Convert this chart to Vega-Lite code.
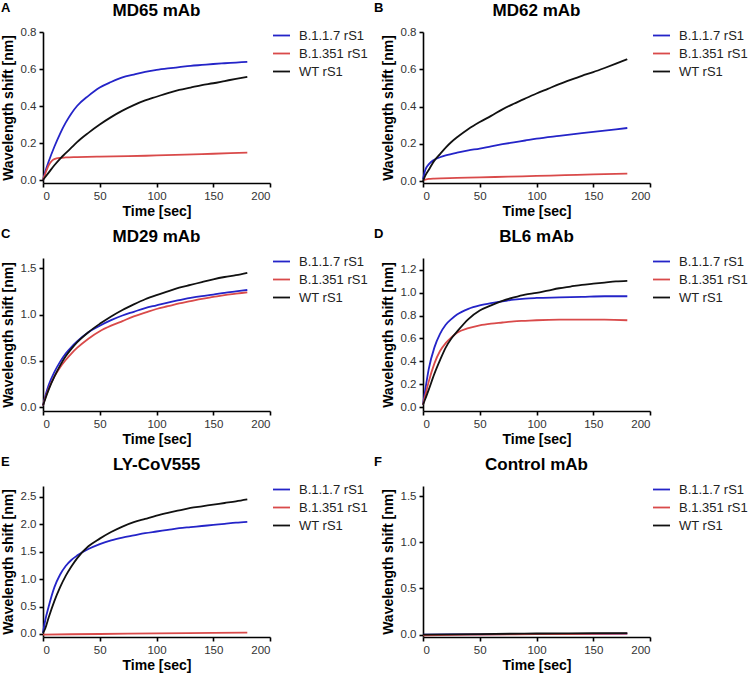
{
  "$schema": "https://vega.github.io/schema/vega-lite/v6.json",
  "background": "white",
  "padding": {"left": 1, "top": 2, "right": 0, "bottom": 0},
  "config": {
    "font": "Liberation Sans",
    "view": {"stroke": null},
    "axis": {"grid": false, "domainColor": "#000", "domainWidth": 1.6, "tickColor": "#000", "tickWidth": 1.6, "tickSize": 4, "labelColor": "#333", "labelFontSize": 11.5, "titleFontSize": 14, "titleFontWeight": "bold", "titleColor": "#000", "labelPadding": 3},
    "axisX": {"titlePadding": 3},
    "axisY": {"titlePadding": 5},
    "legend": {"symbolType": "stroke", "symbolSize": 289, "symbolStrokeWidth": 2, "labelFontSize": 13, "labelColor": "#222", "rowPadding": 1, "labelOffset": 8, "padding": 0},
    "title": {"fontSize": 17, "fontWeight": "bold", "color": "#000"},
    "line": {"strokeWidth": 1.8, "interpolate": "monotone"}
  },
  "datasets": {
    "A": [
      {"t":0,"v":0,"s":"B.1.1.7 rS1"},{"t":2,"v":0.045,"s":"B.1.1.7 rS1"},{"t":5,"v":0.1,"s":"B.1.1.7 rS1"},{"t":10,"v":0.18,"s":"B.1.1.7 rS1"},{"t":15,"v":0.25,"s":"B.1.1.7 rS1"},{"t":20,"v":0.31,"s":"B.1.1.7 rS1"},{"t":25,"v":0.36,"s":"B.1.1.7 rS1"},{"t":30,"v":0.4,"s":"B.1.1.7 rS1"},{"t":40,"v":0.455,"s":"B.1.1.7 rS1"},{"t":50,"v":0.5,"s":"B.1.1.7 rS1"},{"t":60,"v":0.53,"s":"B.1.1.7 rS1"},{"t":70,"v":0.555,"s":"B.1.1.7 rS1"},{"t":80,"v":0.57,"s":"B.1.1.7 rS1"},{"t":90,"v":0.585,"s":"B.1.1.7 rS1"},{"t":100,"v":0.595,"s":"B.1.1.7 rS1"},{"t":110,"v":0.603,"s":"B.1.1.7 rS1"},{"t":120,"v":0.61,"s":"B.1.1.7 rS1"},{"t":130,"v":0.617,"s":"B.1.1.7 rS1"},{"t":140,"v":0.622,"s":"B.1.1.7 rS1"},{"t":150,"v":0.627,"s":"B.1.1.7 rS1"},{"t":160,"v":0.631,"s":"B.1.1.7 rS1"},{"t":170,"v":0.635,"s":"B.1.1.7 rS1"},{"t":180,"v":0.639,"s":"B.1.1.7 rS1"},
      {"t":0,"v":0,"s":"B.1.351 rS1"},{"t":2,"v":0.035,"s":"B.1.351 rS1"},{"t":5,"v":0.08,"s":"B.1.351 rS1"},{"t":8,"v":0.105,"s":"B.1.351 rS1"},{"t":10,"v":0.113,"s":"B.1.351 rS1"},{"t":15,"v":0.12,"s":"B.1.351 rS1"},{"t":20,"v":0.122,"s":"B.1.351 rS1"},{"t":30,"v":0.124,"s":"B.1.351 rS1"},{"t":50,"v":0.127,"s":"B.1.351 rS1"},{"t":75,"v":0.129,"s":"B.1.351 rS1"},{"t":100,"v":0.133,"s":"B.1.351 rS1"},{"t":125,"v":0.137,"s":"B.1.351 rS1"},{"t":150,"v":0.142,"s":"B.1.351 rS1"},{"t":180,"v":0.148,"s":"B.1.351 rS1"},
      {"t":0,"v":0,"s":"WT rS1"},{"t":5,"v":0.04,"s":"WT rS1"},{"t":10,"v":0.08,"s":"WT rS1"},{"t":15,"v":0.115,"s":"WT rS1"},{"t":20,"v":0.145,"s":"WT rS1"},{"t":25,"v":0.175,"s":"WT rS1"},{"t":30,"v":0.205,"s":"WT rS1"},{"t":40,"v":0.255,"s":"WT rS1"},{"t":50,"v":0.3,"s":"WT rS1"},{"t":60,"v":0.34,"s":"WT rS1"},{"t":70,"v":0.375,"s":"WT rS1"},{"t":80,"v":0.405,"s":"WT rS1"},{"t":90,"v":0.43,"s":"WT rS1"},{"t":100,"v":0.45,"s":"WT rS1"},{"t":110,"v":0.47,"s":"WT rS1"},{"t":120,"v":0.487,"s":"WT rS1"},{"t":130,"v":0.5,"s":"WT rS1"},{"t":140,"v":0.513,"s":"WT rS1"},{"t":150,"v":0.523,"s":"WT rS1"},{"t":160,"v":0.535,"s":"WT rS1"},{"t":170,"v":0.547,"s":"WT rS1"},{"t":180,"v":0.558,"s":"WT rS1"}
    ],
    "B": [
      {"t":0,"v":0.01,"s":"B.1.1.7 rS1"},{"t":2,"v":0.06,"s":"B.1.1.7 rS1"},{"t":5,"v":0.09,"s":"B.1.1.7 rS1"},{"t":10,"v":0.115,"s":"B.1.1.7 rS1"},{"t":15,"v":0.128,"s":"B.1.1.7 rS1"},{"t":20,"v":0.138,"s":"B.1.1.7 rS1"},{"t":30,"v":0.153,"s":"B.1.1.7 rS1"},{"t":40,"v":0.165,"s":"B.1.1.7 rS1"},{"t":50,"v":0.175,"s":"B.1.1.7 rS1"},{"t":60,"v":0.187,"s":"B.1.1.7 rS1"},{"t":70,"v":0.198,"s":"B.1.1.7 rS1"},{"t":80,"v":0.208,"s":"B.1.1.7 rS1"},{"t":90,"v":0.218,"s":"B.1.1.7 rS1"},{"t":100,"v":0.228,"s":"B.1.1.7 rS1"},{"t":120,"v":0.243,"s":"B.1.1.7 rS1"},{"t":140,"v":0.257,"s":"B.1.1.7 rS1"},{"t":160,"v":0.271,"s":"B.1.1.7 rS1"},{"t":180,"v":0.285,"s":"B.1.1.7 rS1"},
      {"t":0,"v":0.005,"s":"B.1.351 rS1"},{"t":5,"v":0.012,"s":"B.1.351 rS1"},{"t":10,"v":0.014,"s":"B.1.351 rS1"},{"t":30,"v":0.017,"s":"B.1.351 rS1"},{"t":50,"v":0.02,"s":"B.1.351 rS1"},{"t":75,"v":0.024,"s":"B.1.351 rS1"},{"t":100,"v":0.028,"s":"B.1.351 rS1"},{"t":125,"v":0.032,"s":"B.1.351 rS1"},{"t":150,"v":0.036,"s":"B.1.351 rS1"},{"t":180,"v":0.04,"s":"B.1.351 rS1"},
      {"t":0,"v":0,"s":"WT rS1"},{"t":2,"v":0.03,"s":"WT rS1"},{"t":5,"v":0.06,"s":"WT rS1"},{"t":10,"v":0.11,"s":"WT rS1"},{"t":15,"v":0.145,"s":"WT rS1"},{"t":20,"v":0.18,"s":"WT rS1"},{"t":25,"v":0.21,"s":"WT rS1"},{"t":30,"v":0.235,"s":"WT rS1"},{"t":40,"v":0.28,"s":"WT rS1"},{"t":50,"v":0.317,"s":"WT rS1"},{"t":60,"v":0.35,"s":"WT rS1"},{"t":70,"v":0.385,"s":"WT rS1"},{"t":80,"v":0.415,"s":"WT rS1"},{"t":90,"v":0.443,"s":"WT rS1"},{"t":100,"v":0.47,"s":"WT rS1"},{"t":110,"v":0.495,"s":"WT rS1"},{"t":120,"v":0.52,"s":"WT rS1"},{"t":130,"v":0.543,"s":"WT rS1"},{"t":140,"v":0.565,"s":"WT rS1"},{"t":150,"v":0.585,"s":"WT rS1"},{"t":160,"v":0.607,"s":"WT rS1"},{"t":170,"v":0.63,"s":"WT rS1"},{"t":180,"v":0.654,"s":"WT rS1"}
    ],
    "C": [
      {"t":0,"v":0.02,"s":"B.1.1.7 rS1"},{"t":2,"v":0.12,"s":"B.1.1.7 rS1"},{"t":5,"v":0.24,"s":"B.1.1.7 rS1"},{"t":10,"v":0.38,"s":"B.1.1.7 rS1"},{"t":15,"v":0.49,"s":"B.1.1.7 rS1"},{"t":20,"v":0.58,"s":"B.1.1.7 rS1"},{"t":25,"v":0.65,"s":"B.1.1.7 rS1"},{"t":30,"v":0.71,"s":"B.1.1.7 rS1"},{"t":40,"v":0.81,"s":"B.1.1.7 rS1"},{"t":50,"v":0.88,"s":"B.1.1.7 rS1"},{"t":60,"v":0.94,"s":"B.1.1.7 rS1"},{"t":70,"v":0.99,"s":"B.1.1.7 rS1"},{"t":80,"v":1.03,"s":"B.1.1.7 rS1"},{"t":90,"v":1.07,"s":"B.1.1.7 rS1"},{"t":100,"v":1.1,"s":"B.1.1.7 rS1"},{"t":110,"v":1.13,"s":"B.1.1.7 rS1"},{"t":120,"v":1.155,"s":"B.1.1.7 rS1"},{"t":130,"v":1.18,"s":"B.1.1.7 rS1"},{"t":140,"v":1.2,"s":"B.1.1.7 rS1"},{"t":150,"v":1.215,"s":"B.1.1.7 rS1"},{"t":160,"v":1.235,"s":"B.1.1.7 rS1"},{"t":170,"v":1.25,"s":"B.1.1.7 rS1"},{"t":180,"v":1.265,"s":"B.1.1.7 rS1"},
      {"t":0,"v":0.02,"s":"B.1.351 rS1"},{"t":2,"v":0.1,"s":"B.1.351 rS1"},{"t":5,"v":0.2,"s":"B.1.351 rS1"},{"t":10,"v":0.33,"s":"B.1.351 rS1"},{"t":15,"v":0.43,"s":"B.1.351 rS1"},{"t":20,"v":0.51,"s":"B.1.351 rS1"},{"t":25,"v":0.58,"s":"B.1.351 rS1"},{"t":30,"v":0.64,"s":"B.1.351 rS1"},{"t":40,"v":0.74,"s":"B.1.351 rS1"},{"t":50,"v":0.82,"s":"B.1.351 rS1"},{"t":60,"v":0.88,"s":"B.1.351 rS1"},{"t":70,"v":0.93,"s":"B.1.351 rS1"},{"t":80,"v":0.98,"s":"B.1.351 rS1"},{"t":90,"v":1.02,"s":"B.1.351 rS1"},{"t":100,"v":1.06,"s":"B.1.351 rS1"},{"t":110,"v":1.09,"s":"B.1.351 rS1"},{"t":120,"v":1.12,"s":"B.1.351 rS1"},{"t":130,"v":1.145,"s":"B.1.351 rS1"},{"t":140,"v":1.17,"s":"B.1.351 rS1"},{"t":150,"v":1.19,"s":"B.1.351 rS1"},{"t":160,"v":1.21,"s":"B.1.351 rS1"},{"t":170,"v":1.225,"s":"B.1.351 rS1"},{"t":180,"v":1.24,"s":"B.1.351 rS1"},
      {"t":0,"v":0.02,"s":"WT rS1"},{"t":2,"v":0.09,"s":"WT rS1"},{"t":5,"v":0.19,"s":"WT rS1"},{"t":10,"v":0.33,"s":"WT rS1"},{"t":15,"v":0.45,"s":"WT rS1"},{"t":20,"v":0.55,"s":"WT rS1"},{"t":25,"v":0.63,"s":"WT rS1"},{"t":30,"v":0.7,"s":"WT rS1"},{"t":40,"v":0.81,"s":"WT rS1"},{"t":50,"v":0.9,"s":"WT rS1"},{"t":60,"v":0.98,"s":"WT rS1"},{"t":70,"v":1.05,"s":"WT rS1"},{"t":80,"v":1.11,"s":"WT rS1"},{"t":90,"v":1.165,"s":"WT rS1"},{"t":100,"v":1.21,"s":"WT rS1"},{"t":110,"v":1.25,"s":"WT rS1"},{"t":120,"v":1.29,"s":"WT rS1"},{"t":130,"v":1.32,"s":"WT rS1"},{"t":140,"v":1.35,"s":"WT rS1"},{"t":150,"v":1.38,"s":"WT rS1"},{"t":160,"v":1.405,"s":"WT rS1"},{"t":170,"v":1.425,"s":"WT rS1"},{"t":180,"v":1.45,"s":"WT rS1"}
    ],
    "D": [
      {"t":0,"v":0.02,"s":"B.1.1.7 rS1"},{"t":2,"v":0.15,"s":"B.1.1.7 rS1"},{"t":5,"v":0.33,"s":"B.1.1.7 rS1"},{"t":10,"v":0.52,"s":"B.1.1.7 rS1"},{"t":15,"v":0.64,"s":"B.1.1.7 rS1"},{"t":20,"v":0.72,"s":"B.1.1.7 rS1"},{"t":25,"v":0.77,"s":"B.1.1.7 rS1"},{"t":30,"v":0.81,"s":"B.1.1.7 rS1"},{"t":40,"v":0.86,"s":"B.1.1.7 rS1"},{"t":50,"v":0.89,"s":"B.1.1.7 rS1"},{"t":60,"v":0.91,"s":"B.1.1.7 rS1"},{"t":70,"v":0.925,"s":"B.1.1.7 rS1"},{"t":80,"v":0.94,"s":"B.1.1.7 rS1"},{"t":90,"v":0.95,"s":"B.1.1.7 rS1"},{"t":100,"v":0.955,"s":"B.1.1.7 rS1"},{"t":120,"v":0.96,"s":"B.1.1.7 rS1"},{"t":140,"v":0.965,"s":"B.1.1.7 rS1"},{"t":160,"v":0.97,"s":"B.1.1.7 rS1"},{"t":180,"v":0.97,"s":"B.1.1.7 rS1"},
      {"t":0,"v":0.02,"s":"B.1.351 rS1"},{"t":2,"v":0.1,"s":"B.1.351 rS1"},{"t":5,"v":0.22,"s":"B.1.351 rS1"},{"t":10,"v":0.38,"s":"B.1.351 rS1"},{"t":15,"v":0.49,"s":"B.1.351 rS1"},{"t":20,"v":0.56,"s":"B.1.351 rS1"},{"t":25,"v":0.61,"s":"B.1.351 rS1"},{"t":30,"v":0.65,"s":"B.1.351 rS1"},{"t":40,"v":0.69,"s":"B.1.351 rS1"},{"t":50,"v":0.715,"s":"B.1.351 rS1"},{"t":60,"v":0.73,"s":"B.1.351 rS1"},{"t":70,"v":0.74,"s":"B.1.351 rS1"},{"t":80,"v":0.75,"s":"B.1.351 rS1"},{"t":90,"v":0.755,"s":"B.1.351 rS1"},{"t":100,"v":0.76,"s":"B.1.351 rS1"},{"t":120,"v":0.765,"s":"B.1.351 rS1"},{"t":140,"v":0.765,"s":"B.1.351 rS1"},{"t":160,"v":0.765,"s":"B.1.351 rS1"},{"t":180,"v":0.76,"s":"B.1.351 rS1"},
      {"t":0,"v":0.02,"s":"WT rS1"},{"t":2,"v":0.07,"s":"WT rS1"},{"t":5,"v":0.15,"s":"WT rS1"},{"t":10,"v":0.29,"s":"WT rS1"},{"t":15,"v":0.41,"s":"WT rS1"},{"t":20,"v":0.52,"s":"WT rS1"},{"t":25,"v":0.6,"s":"WT rS1"},{"t":30,"v":0.66,"s":"WT rS1"},{"t":40,"v":0.77,"s":"WT rS1"},{"t":50,"v":0.845,"s":"WT rS1"},{"t":60,"v":0.89,"s":"WT rS1"},{"t":70,"v":0.93,"s":"WT rS1"},{"t":80,"v":0.96,"s":"WT rS1"},{"t":90,"v":0.985,"s":"WT rS1"},{"t":100,"v":1.0,"s":"WT rS1"},{"t":110,"v":1.02,"s":"WT rS1"},{"t":120,"v":1.04,"s":"WT rS1"},{"t":130,"v":1.055,"s":"WT rS1"},{"t":140,"v":1.07,"s":"WT rS1"},{"t":150,"v":1.08,"s":"WT rS1"},{"t":160,"v":1.09,"s":"WT rS1"},{"t":170,"v":1.1,"s":"WT rS1"},{"t":180,"v":1.105,"s":"WT rS1"}
    ],
    "E": [
      {"t":0,"v":0.02,"s":"B.1.1.7 rS1"},{"t":2,"v":0.25,"s":"B.1.1.7 rS1"},{"t":5,"v":0.5,"s":"B.1.1.7 rS1"},{"t":10,"v":0.85,"s":"B.1.1.7 rS1"},{"t":15,"v":1.08,"s":"B.1.1.7 rS1"},{"t":20,"v":1.24,"s":"B.1.1.7 rS1"},{"t":25,"v":1.35,"s":"B.1.1.7 rS1"},{"t":30,"v":1.43,"s":"B.1.1.7 rS1"},{"t":40,"v":1.55,"s":"B.1.1.7 rS1"},{"t":50,"v":1.64,"s":"B.1.1.7 rS1"},{"t":60,"v":1.71,"s":"B.1.1.7 rS1"},{"t":70,"v":1.76,"s":"B.1.1.7 rS1"},{"t":80,"v":1.8,"s":"B.1.1.7 rS1"},{"t":90,"v":1.84,"s":"B.1.1.7 rS1"},{"t":100,"v":1.87,"s":"B.1.1.7 rS1"},{"t":110,"v":1.9,"s":"B.1.1.7 rS1"},{"t":120,"v":1.93,"s":"B.1.1.7 rS1"},{"t":130,"v":1.95,"s":"B.1.1.7 rS1"},{"t":140,"v":1.97,"s":"B.1.1.7 rS1"},{"t":150,"v":1.99,"s":"B.1.1.7 rS1"},{"t":160,"v":2.01,"s":"B.1.1.7 rS1"},{"t":170,"v":2.03,"s":"B.1.1.7 rS1"},{"t":180,"v":2.045,"s":"B.1.1.7 rS1"},
      {"t":0,"v":-0.01,"s":"B.1.351 rS1"},{"t":50,"v":0.0,"s":"B.1.351 rS1"},{"t":100,"v":0.01,"s":"B.1.351 rS1"},{"t":150,"v":0.02,"s":"B.1.351 rS1"},{"t":180,"v":0.025,"s":"B.1.351 rS1"},
      {"t":0,"v":0.02,"s":"WT rS1"},{"t":2,"v":0.1,"s":"WT rS1"},{"t":5,"v":0.3,"s":"WT rS1"},{"t":10,"v":0.6,"s":"WT rS1"},{"t":15,"v":0.85,"s":"WT rS1"},{"t":20,"v":1.06,"s":"WT rS1"},{"t":25,"v":1.23,"s":"WT rS1"},{"t":30,"v":1.38,"s":"WT rS1"},{"t":40,"v":1.6,"s":"WT rS1"},{"t":50,"v":1.74,"s":"WT rS1"},{"t":60,"v":1.86,"s":"WT rS1"},{"t":70,"v":1.96,"s":"WT rS1"},{"t":80,"v":2.04,"s":"WT rS1"},{"t":90,"v":2.1,"s":"WT rS1"},{"t":100,"v":2.16,"s":"WT rS1"},{"t":110,"v":2.21,"s":"WT rS1"},{"t":120,"v":2.255,"s":"WT rS1"},{"t":130,"v":2.3,"s":"WT rS1"},{"t":140,"v":2.33,"s":"WT rS1"},{"t":150,"v":2.36,"s":"WT rS1"},{"t":160,"v":2.39,"s":"WT rS1"},{"t":170,"v":2.42,"s":"WT rS1"},{"t":180,"v":2.455,"s":"WT rS1"}
    ],
    "F": [
      {"t":0,"v":0.0,"s":"B.1.1.7 rS1"},{"t":50,"v":0.003,"s":"B.1.1.7 rS1"},{"t":100,"v":0.006,"s":"B.1.1.7 rS1"},{"t":150,"v":0.008,"s":"B.1.1.7 rS1"},{"t":180,"v":0.01,"s":"B.1.1.7 rS1"},
      {"t":0,"v":-0.008,"s":"B.1.351 rS1"},{"t":50,"v":0.0,"s":"B.1.351 rS1"},{"t":100,"v":0.005,"s":"B.1.351 rS1"},{"t":150,"v":0.008,"s":"B.1.351 rS1"},{"t":180,"v":0.01,"s":"B.1.351 rS1"},
      {"t":0,"v":0.0,"s":"WT rS1"},{"t":50,"v":0.006,"s":"WT rS1"},{"t":100,"v":0.012,"s":"WT rS1"},{"t":150,"v":0.015,"s":"WT rS1"},{"t":180,"v":0.016,"s":"WT rS1"}
    ]
  },
  "resolve": {"scale": {"color": "independent"}, "legend": {"color": "independent"}},
  "spacing": 9,
  "vconcat": [
    {
      "spacing": 6,
      "resolve": {"scale": {"color": "independent"}, "legend": {"color": "independent"}},
      "hconcat": [
        {"title": {"text": "A", "anchor": "start", "frame": "bounds", "fontSize": 13, "offset": -13, "dx": 0},
         "resolve": {"scale": {"color": "independent"}, "legend": {"color": "independent"}},
         "hconcat": [{
          "title": {"text": "MD65 mAb", "anchor": "middle", "offset": 6},
          "width": 227, "height": 151, "data": {"name": "A"}, "mark": {"type": "line"},
          "encoding": {
            "x": {"field": "t", "type": "quantitative", "scale": {"domain": [0, 200], "nice": false}, "axis": {"values": [0, 50, 100, 150, 200], "title": "Time [sec]"}},
            "y": {"field": "v", "type": "quantitative", "scale": {"domain": [-0.016, 0.8], "nice": false, "zero": false}, "axis": {"values": [0, 0.2, 0.4, 0.6, 0.8], "format": ".1f", "title": "Wavelength shift [nm]"}},
            "color": {"field": "s", "type": "nominal", "scale": {"domain": ["B.1.1.7 rS1", "B.1.351 rS1", "WT rS1"], "range": ["#2424c8", "#d94a4a", "#111111"]}, "legend": {"title": null, "orient": "none", "legendX": 229, "legendY": -6}}
          }}]},
        {"title": {"text": "B", "anchor": "start", "frame": "bounds", "fontSize": 13, "offset": -13, "dx": -7},
         "resolve": {"scale": {"color": "independent"}, "legend": {"color": "independent"}},
         "hconcat": [{
          "title": {"text": "MD62 mAb", "anchor": "middle", "offset": 6},
          "width": 227, "height": 151, "data": {"name": "B"}, "mark": {"type": "line"},
          "encoding": {
            "x": {"field": "t", "type": "quantitative", "scale": {"domain": [0, 200], "nice": false}, "axis": {"values": [0, 50, 100, 150, 200], "title": "Time [sec]"}},
            "y": {"field": "v", "type": "quantitative", "scale": {"domain": [-0.01, 0.8], "nice": false, "zero": false}, "axis": {"values": [0, 0.2, 0.4, 0.6, 0.8], "format": ".1f", "title": "Wavelength shift [nm]"}},
            "color": {"field": "s", "type": "nominal", "scale": {"domain": ["B.1.1.7 rS1", "B.1.351 rS1", "WT rS1"], "range": ["#2424c8", "#d94a4a", "#111111"]}, "legend": {"title": null, "orient": "none", "legendX": 229, "legendY": -6}}
          }}]}
      ]
    },
    {
      "spacing": 6,
      "resolve": {"scale": {"color": "independent"}, "legend": {"color": "independent"}},
      "hconcat": [
        {"title": {"text": "C", "anchor": "start", "frame": "bounds", "fontSize": 13, "offset": -13, "dx": 0},
         "resolve": {"scale": {"color": "independent"}, "legend": {"color": "independent"}},
         "hconcat": [{
          "title": {"text": "MD29 mAb", "anchor": "middle", "offset": 6},
          "width": 227, "height": 153, "data": {"name": "C"}, "mark": {"type": "line"},
          "encoding": {
            "x": {"field": "t", "type": "quantitative", "scale": {"domain": [0, 200], "nice": false}, "axis": {"values": [0, 50, 100, 150, 200], "title": "Time [sec]"}},
            "y": {"field": "v", "type": "quantitative", "scale": {"domain": [-0.04, 1.61], "nice": false, "zero": false}, "axis": {"values": [0, 0.5, 1, 1.5], "format": ".1f", "title": "Wavelength shift [nm]"}},
            "color": {"field": "s", "type": "nominal", "scale": {"domain": ["B.1.1.7 rS1", "B.1.351 rS1", "WT rS1"], "range": ["#2424c8", "#d94a4a", "#111111"]}, "legend": {"title": null, "orient": "none", "legendX": 229, "legendY": -6}}
          }}]},
        {"title": {"text": "D", "anchor": "start", "frame": "bounds", "fontSize": 13, "offset": -13, "dx": -7},
         "resolve": {"scale": {"color": "independent"}, "legend": {"color": "independent"}},
         "hconcat": [{
          "title": {"text": "BL6 mAb", "anchor": "middle", "offset": 6},
          "width": 227, "height": 153, "data": {"name": "D"}, "mark": {"type": "line"},
          "encoding": {
            "x": {"field": "t", "type": "quantitative", "scale": {"domain": [0, 200], "nice": false}, "axis": {"values": [0, 50, 100, 150, 200], "title": "Time [sec]"}},
            "y": {"field": "v", "type": "quantitative", "scale": {"domain": [-0.035, 1.305], "nice": false, "zero": false}, "axis": {"values": [0, 0.2, 0.4, 0.6, 0.8, 1.0, 1.2], "format": ".1f", "title": "Wavelength shift [nm]"}},
            "color": {"field": "s", "type": "nominal", "scale": {"domain": ["B.1.1.7 rS1", "B.1.351 rS1", "WT rS1"], "range": ["#2424c8", "#d94a4a", "#111111"]}, "legend": {"title": null, "orient": "none", "legendX": 229, "legendY": -6}}
          }}]}
      ]
    },
    {
      "spacing": 6,
      "resolve": {"scale": {"color": "independent"}, "legend": {"color": "independent"}},
      "hconcat": [
        {"title": {"text": "E", "anchor": "start", "frame": "bounds", "fontSize": 13, "offset": -13, "dx": 0},
         "resolve": {"scale": {"color": "independent"}, "legend": {"color": "independent"}},
         "hconcat": [{
          "title": {"text": "LY-CoV555", "anchor": "middle", "offset": 6},
          "width": 227, "height": 151, "data": {"name": "E"}, "mark": {"type": "line"},
          "encoding": {
            "x": {"field": "t", "type": "quantitative", "scale": {"domain": [0, 200], "nice": false}, "axis": {"values": [0, 50, 100, 150, 200], "title": "Time [sec]"}},
            "y": {"field": "v", "type": "quantitative", "scale": {"domain": [-0.055, 2.7], "nice": false, "zero": false}, "axis": {"values": [0, 0.5, 1, 1.5, 2, 2.5], "format": ".1f", "title": "Wavelength shift [nm]"}},
            "color": {"field": "s", "type": "nominal", "scale": {"domain": ["B.1.1.7 rS1", "B.1.351 rS1", "WT rS1"], "range": ["#2424c8", "#d94a4a", "#111111"]}, "legend": {"title": null, "orient": "none", "legendX": 229, "legendY": -6}}
          }}]},
        {"title": {"text": "F", "anchor": "start", "frame": "bounds", "fontSize": 13, "offset": -13, "dx": -7},
         "resolve": {"scale": {"color": "independent"}, "legend": {"color": "independent"}},
         "hconcat": [{
          "title": {"text": "Control mAb", "anchor": "middle", "offset": 6},
          "width": 227, "height": 151, "data": {"name": "F"}, "mark": {"type": "line"},
          "encoding": {
            "x": {"field": "t", "type": "quantitative", "scale": {"domain": [0, 200], "nice": false}, "axis": {"values": [0, 50, 100, 150, 200], "title": "Time [sec]"}},
            "y": {"field": "v", "type": "quantitative", "scale": {"domain": [-0.026, 1.61], "nice": false, "zero": false}, "axis": {"values": [0, 0.5, 1, 1.5], "format": ".1f", "title": "Wavelength shift [nm]"}},
            "color": {"field": "s", "type": "nominal", "scale": {"domain": ["B.1.1.7 rS1", "B.1.351 rS1", "WT rS1"], "range": ["#2424c8", "#d94a4a", "#111111"]}, "legend": {"title": null, "orient": "none", "legendX": 229, "legendY": -6}}
          }}]}
      ]
    }
  ]
}
